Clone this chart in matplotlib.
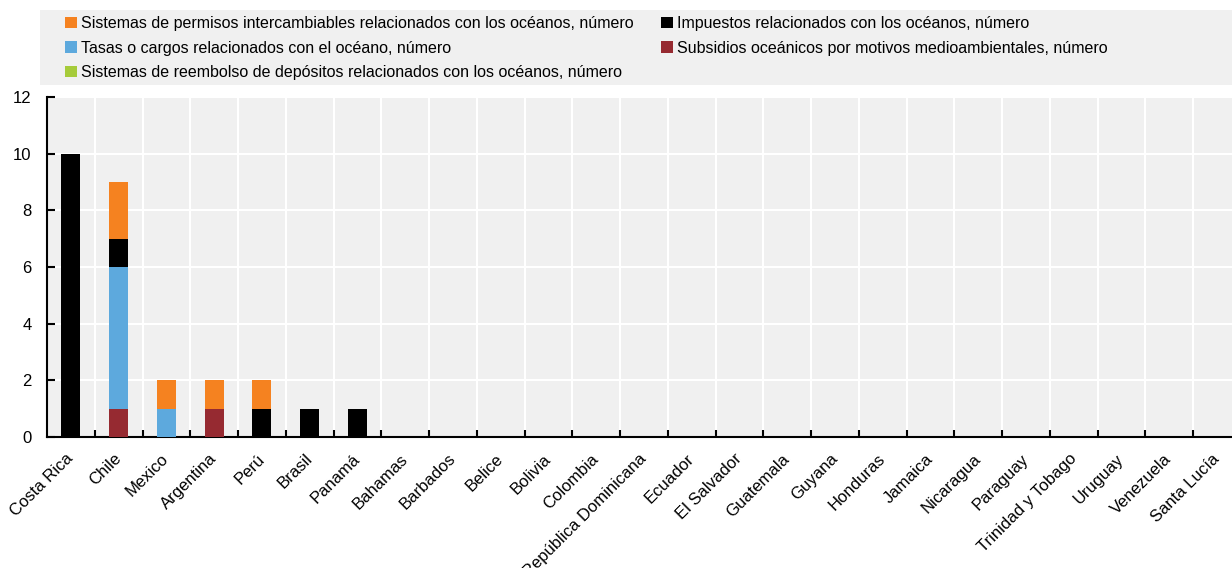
import numpy as np
import matplotlib.pyplot as plt
from matplotlib.patches import Rectangle

plt.rcParams['font.family'] = ['Liberation Sans', 'DejaVu Sans']

countries = ['Costa Rica', 'Chile', 'Mexico', 'Argentina', 'Perú', 'Brasil', 'Panamá',
             'Bahamas', 'Barbados', 'Belice', 'Bolivia', 'Colombia', 'República Dominicana',
             'Ecuador', 'El Salvador', 'Guatemala', 'Guyana', 'Honduras', 'Jamaica',
             'Nicaragua', 'Paraguay', 'Trinidad y Tobago', 'Uruguay', 'Venezuela', 'Santa Lucía']

n_extra = len(countries) - 7
subsidios = [0, 1, 0, 1, 0, 0, 0] + [0] * n_extra
tasas = [0, 5, 1, 0, 0, 0, 0] + [0] * n_extra
impuestos = [10, 1, 0, 0, 1, 1, 1] + [0] * n_extra
permisos = [0, 2, 1, 1, 1, 0, 0] + [0] * n_extra
reembolso = [0, 0, 0, 0, 0, 0, 0] + [0] * n_extra

lbl_permisos = 'Sistemas de permisos intercambiables relacionados con los océanos, número'
lbl_tasas = 'Tasas o cargos relacionados con el océano, número'
lbl_reembolso = 'Sistemas de reembolso de depósitos relacionados con los océanos, número'
lbl_impuestos = 'Impuestos relacionados con los océanos, número'
lbl_subsidios = 'Subsidios oceánicos por motivos medioambientales, número'

c_orange = '#F58220'
c_blue = '#5DA9DD'
c_green = '#A6CB3A'
c_black = '#000000'
c_red = '#962A31'
bg = '#F0F0F0'

fig = plt.figure(figsize=(12.32, 5.68), dpi=100)
ax = fig.add_axes([47 / 1232, 1 - 437 / 568, 1194 / 1232, 340 / 568])
ax.set_facecolor(bg)

x = np.arange(len(countries))
w = 0.4
series = [(subsidios, c_red, lbl_subsidios), (tasas, c_blue, lbl_tasas),
          (impuestos, c_black, lbl_impuestos), (permisos, c_orange, lbl_permisos),
          (reembolso, c_green, lbl_reembolso)]
bottom = np.zeros(len(countries))
handles = {}
for vals, col, lbl in series:
    vals = np.array(vals, dtype=float)
    b = ax.bar(x, vals, w, bottom=bottom, color=col, label=lbl, zorder=3)
    handles[lbl] = b
    bottom += vals

ax.set_xlim(-0.5, len(countries) - 0.5)
ax.set_ylim(0, 12)
ax.set_yticks(range(0, 13, 2))
ax.yaxis.grid(True, color='white', linewidth=1.5, zorder=1)
for b in np.arange(0.5, len(countries) - 0.5, 1):
    ax.axvline(b, color='white', linewidth=1.5, zorder=1)

# ticks sit on the category boundaries, labels on the bar centres
ax.set_xticks(np.arange(0.5, len(countries) - 0.5, 1))
ax.set_xticklabels([])
ax.set_xticks(x, minor=True)
ax.set_xticklabels(countries, minor=True, rotation=45, ha='right', va='center',
                   rotation_mode='anchor', fontsize=12)
ax.tick_params(axis='x', which='major', direction='in', length=5, width=1.5, color='black')
ax.tick_params(axis='x', which='minor', length=0, pad=14)
ax.tick_params(axis='y', direction='in', length=6, width=1.5, labelsize=12, pad=11)

for s in ['top', 'right']:
    ax.spines[s].set_visible(False)
ax.spines['bottom'].set_linewidth(1.5)
ax.spines['left'].set_linewidth(1.5)

# legend box above the plot
fig.patches.append(Rectangle((40 / 1232, 1 - 85 / 568), 1, 75 / 568, transform=fig.transFigure,
                             facecolor=bg, edgecolor='none', zorder=0))
order = [lbl_permisos, lbl_tasas, lbl_reembolso, lbl_impuestos, lbl_subsidios]
fig.legend([handles[k] for k in order], order, loc='upper left', ncol=2,
           bbox_to_anchor=(65 / 1232, 1 - 16 / 568), frameon=False, fontsize=11.5,
           handlelength=0.75, handleheight=0.75, handletextpad=0.25, labelspacing=0.6,
           columnspacing=1.7, borderaxespad=0, borderpad=0)

fig.savefig('out.png', dpi=100)
